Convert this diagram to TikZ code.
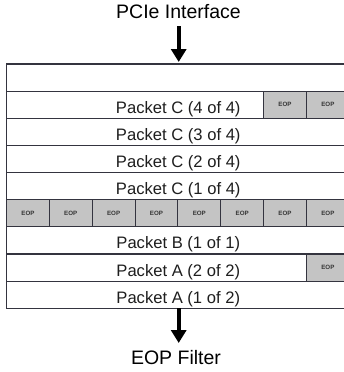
\documentclass[tikz,border=0pt]{standalone}
\usepackage{fontspec}
\setmainfont{Liberation Sans}
\usetikzlibrary{arrows.meta}
\definecolor{edge}{HTML}{34343F}
\definecolor{cellfill}{HTML}{C4C4C4}
\definecolor{ink}{HTML}{1E1E1E}
\tikzset{
  rowbox/.style={draw=edge, line width=1.2pt, fill=white, minimum width=343.5pt,
    minimum height=27.14pt, inner sep=0pt, outer sep=0pt},
  rowtext/.style={anchor=base, inner sep=0pt, text=ink,
    font=\fontsize{16.6}{19}\selectfont},
  eopcell/.style={draw=edge, line width=1.1pt, fill=cellfill, minimum width=42.85pt,
    minimum height=27.14pt, inner sep=0pt, outer sep=0pt, text=ink!90,
    font=\bfseries\fontsize{6.2}{7}\selectfont},
  caption/.style={anchor=base, inner sep=0pt, text=black,
    font=\fontsize{19.5}{22}\selectfont},
  flow/.style={line width=4.3pt, -{Triangle[width=15pt,length=13pt]}}
}
\begin{document}
\begin{tikzpicture}[x=1pt,y=-1pt]
\useasboundingbox (0,0) rectangle (344,372);
\clip (0,0) rectangle (344,372);

% buffer rows, top to bottom (height 27.14, starting at y=64)
\foreach \i in {0,...,8}{
  \node[rowbox] (row\i) at (178.25, {64+27.14*\i+13.57}) {};
}
\node[rowtext] (t1) at (178.25, {64+27.14*2-5}) {Packet C (4 of 4)};
\node[rowtext] (t2) at (178.25, {64+27.14*3-5}) {Packet C (3 of 4)};
\node[rowtext] (t3) at (178.25, {64+27.14*4-5}) {Packet C (2 of 4)};
\node[rowtext] (t4) at (178.25, {64+27.14*5-5}) {Packet C (1 of 4)};
\node[rowtext] (t6) at (178.25, {64+27.14*7-5}) {Packet B (1 of 1)};
\node[rowtext] (t7) at (178.25, {64+27.14*8-5}) {Packet A (2 of 2)};
\node[rowtext] (t8) at (178.25, {64+27.14*9-5}) {Packet A (1 of 2)};

% EOP markers
\foreach \k in {6,7}{
  \node[eopcell] (c1e\k) at ({6.5+42.85*\k+21.425}, {64+27.14*1+13.57}) {EOP};
}
\foreach \k in {0,...,7}{
  \node[eopcell] (c5e\k) at ({6.5+42.85*\k+21.425}, {64+27.14*5+13.57}) {EOP};
}
\node[eopcell] (c7e7) at ({6.5+42.85*7+21.425}, {64+27.14*7+13.57}) {EOP};

% input and output
\node[caption] (pcie) at (178.5, 18.3) {PCIe Interface};
\node[caption] (filter) at (176, 364.2) {EOP Filter};
\coordinate (intop) at (178.7, 26);
\coordinate (outbot) at (178.7, 343);
\draw[flow, shorten >=2pt] (intop) -- (intop |- row0.north);
\draw[flow] (row8.south -| outbot) -- (outbot);
\end{tikzpicture}
\end{document}
